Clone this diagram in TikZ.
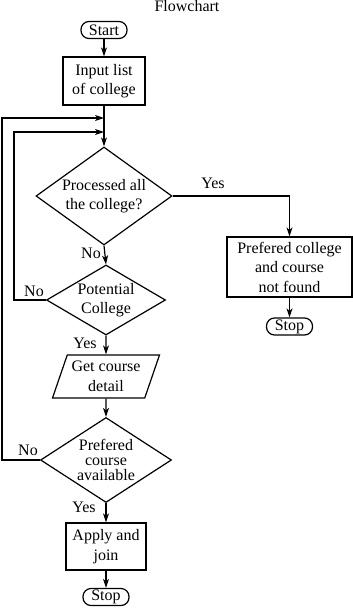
\documentclass[tikz,border=0pt]{standalone}
\usepackage{fontspec}
\setmainfont{Liberation Serif}
\usetikzlibrary{shapes.geometric,arrows.meta}

\begin{document}
\begin{tikzpicture}[
  x=1pt, y=-1pt, line width=1.2pt,
  every node/.style={font=\fontsize{16}{19.5}\selectfont},
  term/.style={draw, rounded corners=8pt, minimum width=46pt, minimum height=17pt, inner sep=0pt},
  proc/.style={draw, align=center, inner sep=0pt},
  cond/.style={draw, diamond, align=center, inner sep=0pt},
  io/.style={draw, trapezium, trapezium left angle=64, trapezium right angle=116,
    trapezium stretches body, align=center, inner sep=0pt},
  arr/.style={-{Stealth[length=9pt,width=6pt,inset=2.5pt]}},
  lbl/.style={inner sep=0pt}
]
\useasboundingbox (0,0) rectangle (353,608);
\node[lbl] (title) at (187,6) {Flowchart};
\node[term] (start) at (104,30) {Start};
\node[proc, minimum width=82pt, minimum height=48pt] (input) at (104,81) {Input list\\of college};
\node[cond, aspect=1.39, minimum width=136pt, minimum height=98pt] (d1) at (104,196) {Processed all\\the college?};
\node[cond, aspect=1.7, minimum width=119pt, minimum height=70pt] (d2) at (106,300) {Potential\\College};
\node[io, minimum width=107pt, minimum height=43pt] (get) at (106,376.5) {Get course\\detail};
\node[cond, aspect=1.54, minimum width=131pt, minimum height=85pt,
  font=\fontsize{16}{15}\selectfont] (d3) at (106,460) {Prefered\\course\\available};
\node[proc, minimum width=80pt, minimum height=47pt] (apply) at (106,546.5) {Apply and\\join};
\node[term] (stop) at (106,597) {Stop};
\node[proc, minimum width=125pt, minimum height=60pt] (notfound) at (289.5,267) {Prefered college\\and course\\not found};
\node[term] (stop2) at (289.5,326.5) {Stop};
% where the loops come back in
\coordinate (join1) at (104,118);
\coordinate (join2) at (104,132);
\coordinate (loop1) at (2,460);
\coordinate (loop2) at (14,300);
% main column
\draw[arr] (start) -- (input);
\draw[arr] (input) -- (d1);
\draw[arr] (d1.south) -- (d2.north);
\draw[arr] (d2.south) -- (get.north);
\draw[arr] (get.south) -- (d3.north);
\draw[arr] (d3.south) -- (apply.north);
\draw[arr] (apply) -- (stop);
\draw[arr] (d1.east) -| (notfound.north);
\draw[arr] (notfound) -- (stop2);
\draw[arr] (d3.west) -- (loop1) |- (join1);
\draw[arr] (d2.west) -- (loop2) |- (join2);
% labels
\node[lbl] (yes1) at (213,183) {Yes};
\node[lbl] (no1) at (91,253) {No};
\node[lbl] (no2) at (34,291) {No};
\node[lbl] (yes2) at (85,343) {Yes};
\node[lbl] (no3) at (28,450) {No};
\node[lbl] (yes3) at (84,507) {Yes};
\end{tikzpicture}
\end{document}
